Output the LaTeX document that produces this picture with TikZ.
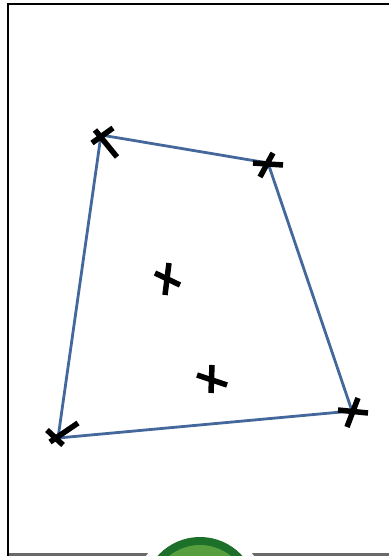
\documentclass[tikz,border=0pt]{standalone}
\usepackage{xcolor}
\definecolor{edgeblue}{RGB}{68,104,156}
\definecolor{framegray}{RGB}{105,105,105}
\definecolor{ringgreen}{RGB}{28,112,42}
\definecolor{fillgreen}{RGB}{86,158,62}

\begin{document}
\begin{tikzpicture}[
        x=1pt, y=-1pt,
        edge/.style={edgeblue, line width=2.8pt, line join=round},
        xstroke/.style={black, line width=5.5pt},
        frame/.style={black, line width=1.4pt}
    ]
    \useasboundingbox (0,0) rectangle (389,556);

    % frame
    \draw[framegray, line width=3pt] (8,554.5) -- (389,554.5);
    \draw[frame] (8,556) -- (8,4) -- (389,4);

    % corners of the quadrilateral
    \coordinate (pa) at (101,135);
    \coordinate (pb) at (268,163);
    \coordinate (pc) at (352,411);
    \coordinate (pd) at (58,438);

    \draw[edge] (pa) -- (pb) -- (pc) -- (pd) -- cycle;

    % crosses on the corners
    \draw[xstroke] (95,130) -- (117,157);
    \draw[xstroke] (92,143) -- (113,128);
    \draw[xstroke] (253,163) -- (283,165);
    \draw[xstroke] (273,153) -- (260,177);
    \draw[xstroke] (338,410) -- (368,413);
    \draw[xstroke] (358,398) -- (347,427);
    \draw[xstroke] (47,430) -- (63,445);
    \draw[xstroke] (50,442) -- (78,423);

    % crosses inside
    \draw[xstroke] (155,273) -- (180,285);
    \draw[xstroke] (169,263) -- (165,295);
    \draw[xstroke] (197,375) -- (227,385);
    \draw[xstroke] (212,365) -- (211,393);

    % green disc at the bottom
    \fill[white] (200,594) circle (66);
    \fill[ringgreen] (200,594) circle (57);
    \fill[fillgreen] (200,594) circle (49);
\end{tikzpicture}
\end{document}
